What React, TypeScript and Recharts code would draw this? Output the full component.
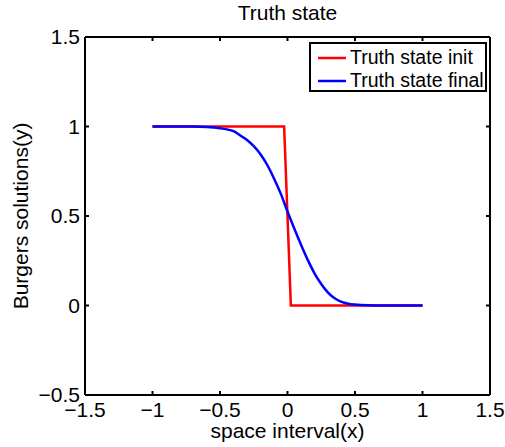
import { LineChart, Line, XAxis, YAxis, Legend, Label } from 'recharts';

const initX = [-1, -0.025, 0.025, 1];
const initY = [1, 1, 0, 0];

const finalX = [
  -1, -0.9, -0.8, -0.7, -0.6, -0.5, -0.45, -0.4, -0.35, -0.3, -0.25, -0.2, -0.15, -0.1, -0.05,
  0, 0.05, 0.1, 0.15, 0.2, 0.25, 0.3, 0.35, 0.4, 0.45, 0.5, 0.6, 0.7, 0.8, 0.9, 1
];
const finalY = [
  1, 1, 1, 1, 0.997, 0.99, 0.984, 0.974, 0.95, 0.925, 0.89, 0.845, 0.785, 0.71, 0.625,
  0.525, 0.43, 0.34, 0.255, 0.18, 0.12, 0.072, 0.04, 0.02, 0.01, 0.005, 0.001, 0, 0, 0, 0
];

const xTicks = [-1.5, -1, -0.5, 0, 0.5, 1, 1.5];
const yTicks = [-0.5, 0, 0.5, 1, 1.5];

const seriesNames = ['Truth state init', 'Truth state final'];
const seriesColors = ['#ff0000', '#0000ff'];

const FONT = '"Liberation Sans", Arial, sans-serif';
const fmt = (v: number) => String(v).replace('-', '\u2212');

const initData = initX.map((x, i) => ({ x, y: initY[i] }));
const finalData = finalX.map((x, i) => ({ x, y: finalY[i] }));

const noTick = () => <g />;

function LegendBox() {
  return (
    <div
      style={{
        border: '2px solid #000',
        background: '#fff',
        boxSizing: 'border-box',
        width: 178,
        height: 50,
        padding: '2px 0 0 6px',
        fontFamily: FONT,
        fontSize: 19.5,
        color: '#000'
      }}
    >
      {seriesNames.map((name, i) => (
        <div key={name} style={{ display: 'flex', alignItems: 'center', height: 23 }}>
          <svg width={30} height={4} style={{ marginRight: 3 }}>
            <line x1={1} y1={2} x2={29} y2={2} stroke={seriesColors[i]} strokeWidth={2.5} />
          </svg>
          <span style={{ lineHeight: '23px', whiteSpace: 'nowrap' }}>{name}</span>
        </div>
      ))}
    </div>
  );
}

export default function App() {
  const tickStyle = { fill: '#000', fontSize: 21, fontFamily: FONT };
  const axisStroke = { stroke: '#000', strokeWidth: 2 };
  return (
    <div style={{ position: 'absolute', left: 0, top: 0, width: 505, height: 447, background: '#fff' }}>
      <LineChart width={505} height={447} margin={{ top: 36, right: 14, left: 0, bottom: 0 }}>
        <XAxis
          type="number"
          dataKey="x"
          xAxisId="bottom"
          domain={[-1.5, 1.5]}
          ticks={xTicks}
          allowDataOverflow
          height={52}
          tickSize={-4}
          tickMargin={11}
          tickFormatter={fmt}
          tick={tickStyle}
          axisLine={axisStroke}
          tickLine={axisStroke}
        >
          <Label value="space interval(x)" position="insideBottom" offset={9} fill="#000" fontSize={21} fontFamily={FONT} />
        </XAxis>
        <XAxis
          type="number"
          dataKey="x"
          xAxisId="top"
          orientation="top"
          domain={[-1.5, 1.5]}
          ticks={xTicks}
          allowDataOverflow
          height={1}
          tickSize={-4}
          tick={noTick}
          axisLine={axisStroke}
          tickLine={axisStroke}
        >
          <Label value="Truth state" position="top" offset={16} fill="#000" fontSize={21} fontFamily={FONT} />
        </XAxis>
        <YAxis
          type="number"
          yAxisId="left"
          domain={[-0.5, 1.5]}
          ticks={yTicks}
          allowDataOverflow
          width={85}
          tickSize={-4}
          tickMargin={9}
          tickFormatter={fmt}
          tick={tickStyle}
          axisLine={axisStroke}
          tickLine={axisStroke}
        >
          <Label
            content={({ viewBox }: any) => {
              const cy = viewBox.y + viewBox.height / 2;
              return (
                <text
                  x={28}
                  y={cy}
                  transform={`rotate(-90, 28, ${cy})`}
                  textAnchor="middle"
                  fill="#000"
                  fontSize={21}
                  fontFamily={FONT}
                >
                  Burgers solutions(y)
                </text>
              );
            }}
          />
        </YAxis>
        <YAxis
          type="number"
          yAxisId="right"
          orientation="right"
          domain={[-0.5, 1.5]}
          ticks={yTicks}
          allowDataOverflow
          width={1}
          tickSize={-4}
          tick={noTick}
          axisLine={axisStroke}
          tickLine={axisStroke}
        />
        <Legend
          layout="vertical"
          align="center"
          verticalAlign="middle"
          wrapperStyle={{ left: 309, top: 42, width: 178, height: 50 }}
          content={() => <LegendBox />}
        />
        {/* invisible series so the top and right box axes get drawn */}
        <Line
          data={finalData}
          dataKey="y"
          xAxisId="top"
          yAxisId="right"
          stroke="none"
          dot={false}
          activeDot={false}
          legendType="none"
          isAnimationActive={false}
        />
        <Line
          data={initData}
          dataKey="y"
          xAxisId="bottom"
          yAxisId="left"
          type="linear"
          stroke={seriesColors[0]}
          strokeWidth={2.5}
          dot={false}
          isAnimationActive={false}
          name={seriesNames[0]}
        />
        <Line
          data={finalData}
          dataKey="y"
          xAxisId="bottom"
          yAxisId="left"
          type="monotone"
          stroke={seriesColors[1]}
          strokeWidth={2.5}
          dot={false}
          isAnimationActive={false}
          name={seriesNames[1]}
        />
      </LineChart>
    </div>
  );
}
